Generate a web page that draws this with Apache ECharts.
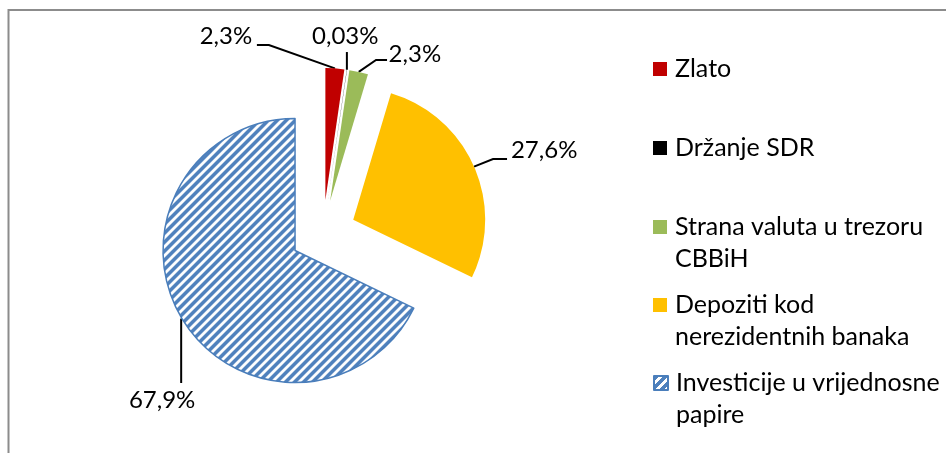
<!DOCTYPE html>
<html><head><meta charset="utf-8">
<style>html,body{margin:0;padding:0;background:#fff;}#c{width:946px;height:453px;}</style>
<script src="https://cdn.jsdelivr.net/npm/echarts@6/dist/echarts.min.js"></script>
</head><body><div id="c"></div>
<script>
// ---- data ----
const categories = ['Zlato', 'Držanje SDR', 'Strana valuta u trezoru CBBiH', 'Depoziti kod nerezidentnih banaka', 'Investicije u vrijednosne papire'];
const values = [2.3, 0.03, 2.3, 27.6, 67.9];
const legendText = ['Zlato', 'Držanje SDR', 'Strana valuta u trezoru\nCBBiH', 'Depoziti kod\nnerezidentnih banaka', 'Investicije u vrijednosne\npapire'];

// ---- styles / layout ----
const colors = ['#C00000', '#000000', '#9BBB59', '#FFC000', '#4F81BD'];
const pieCenter = [323, 233];
const pieRadius = 132;
const explode = 33;
const legendLeft = 648;
const legendIconCenters = [69, 148, 227, 305, 383];
const legendLineHeight = 31.5;
// label placement: align, radial distance, text-box padding [t,r,b,l], leader line points relative to the slice anchor
const labelPlacement = [
  {align: 'right',  dist: 32,    padding: [0, 90, 0, 0],  line: [[0, 0], [-66, -23.4], [-78, -23.4]]},
  {align: 'center', dist: 33.6,  padding: [0, 23, 0, 0],  line: [[0, 0], [0, -17.7]]},
  {align: 'left',   dist: 17.8,  padding: [0, 0, 0, 21],  line: [[0, 0], [17.3, -11.9], [28.3, -11.9]]},
  {align: 'center', dist: 40,    padding: [0, 0, 0, 57],  line: [[0, 0], [19, -7.6], [33, -7.6]]},
  {align: 'center', dist: 150.5, padding: [0, 0, 0, 223], line: [[-2, -2], [-2, 62.4]]}
];

// hatch pattern for the last slice
function makeHatch(period, thick, color) {
  const cv = document.createElement('canvas');
  cv.width = period; cv.height = period;
  const ctx = cv.getContext('2d');
  ctx.fillStyle = '#fff'; ctx.fillRect(0, 0, period, period);
  ctx.fillStyle = color;
  for (let x = 0; x < period; x++) for (let y = 0; y < period; y++) {
    if (((x + y) % period) < thick) ctx.fillRect(x, y, 1, 1);
  }
  return cv;
}
const hatch = makeHatch(9, 5, '#4F81BD');

const chart = echarts.init(document.getElementById('c'), null, {renderer: 'canvas'});

const pieData = categories.map((name, i) => {
  const item = {
    name: name, value: values[i], selected: true,
    itemStyle: {color: colors[i], borderWidth: 0},
    label: {padding: labelPlacement[i].padding},
    labelLine: {length: labelPlacement[i].dist, length2: 0}
  };
  if (i === 4) item.itemStyle = {color: {image: hatch, repeat: 'repeat'}, borderColor: '#4A7EBB', borderWidth: 1.5};
  return item;
});

const legends = categories.map((name, i) => {
  const parts = legendText[i].split('\n');
  const txt = parts.length === 1 ? parts[0] : ' \n' + parts.join('\n');
  const nLines = txt.split('\n').length;
  const boxH = nLines * legendLineHeight;
  return {
    data: [name],
    orient: 'vertical',
    left: legendLeft,
    top: legendIconCenters[i] - 5 - boxH / 2,
    icon: 'rect',
    itemWidth: 14, itemHeight: 14,
    selectedMode: false,
    formatter: () => txt,
    textStyle: {
      fontFamily: 'Lato', fontSize: 25, color: '#000', lineHeight: legendLineHeight,
      padding: [0, 0, 0, 3]
    }
  };
});

chart.setOption({
  animation: false,
  backgroundColor: '#fff',
  legend: legends,
  graphic: [{
    type: 'rect', silent: true,
    shape: {x: 8.5, y: 10, width: 2000, height: 2000},
    style: {fill: 'none', stroke: '#8C8C8C', lineWidth: 2}
  }],
  series: [{
    type: 'pie',
    center: pieCenter,
    radius: pieRadius,
    startAngle: 90,
    clockwise: true,
    avoidLabelOverlap: false,
    selectedMode: 'multiple',
    selectedOffset: explode,
    data: pieData,
    label: {
      show: true, position: 'outside', alignTo: 'none',
      fontFamily: 'Lato', fontSize: 24, color: '#000',
      formatter: p => String(p.value).replace('.', ',') + '%'
    },
    labelLine: {show: true, length: 0, length2: 0, lineStyle: {color: '#000', width: 2}},
    labelLayout: function (p) {
      const pl = labelPlacement[p.dataIndex];
      const a = p.labelLinePoints[0];
      return {
        align: pl.align, verticalAlign: 'middle',
        labelLinePoints: pl.line.map(d => [a[0] + d[0], a[1] + d[1]])
      };
    }
  }]
});
</script>
</body></html>
